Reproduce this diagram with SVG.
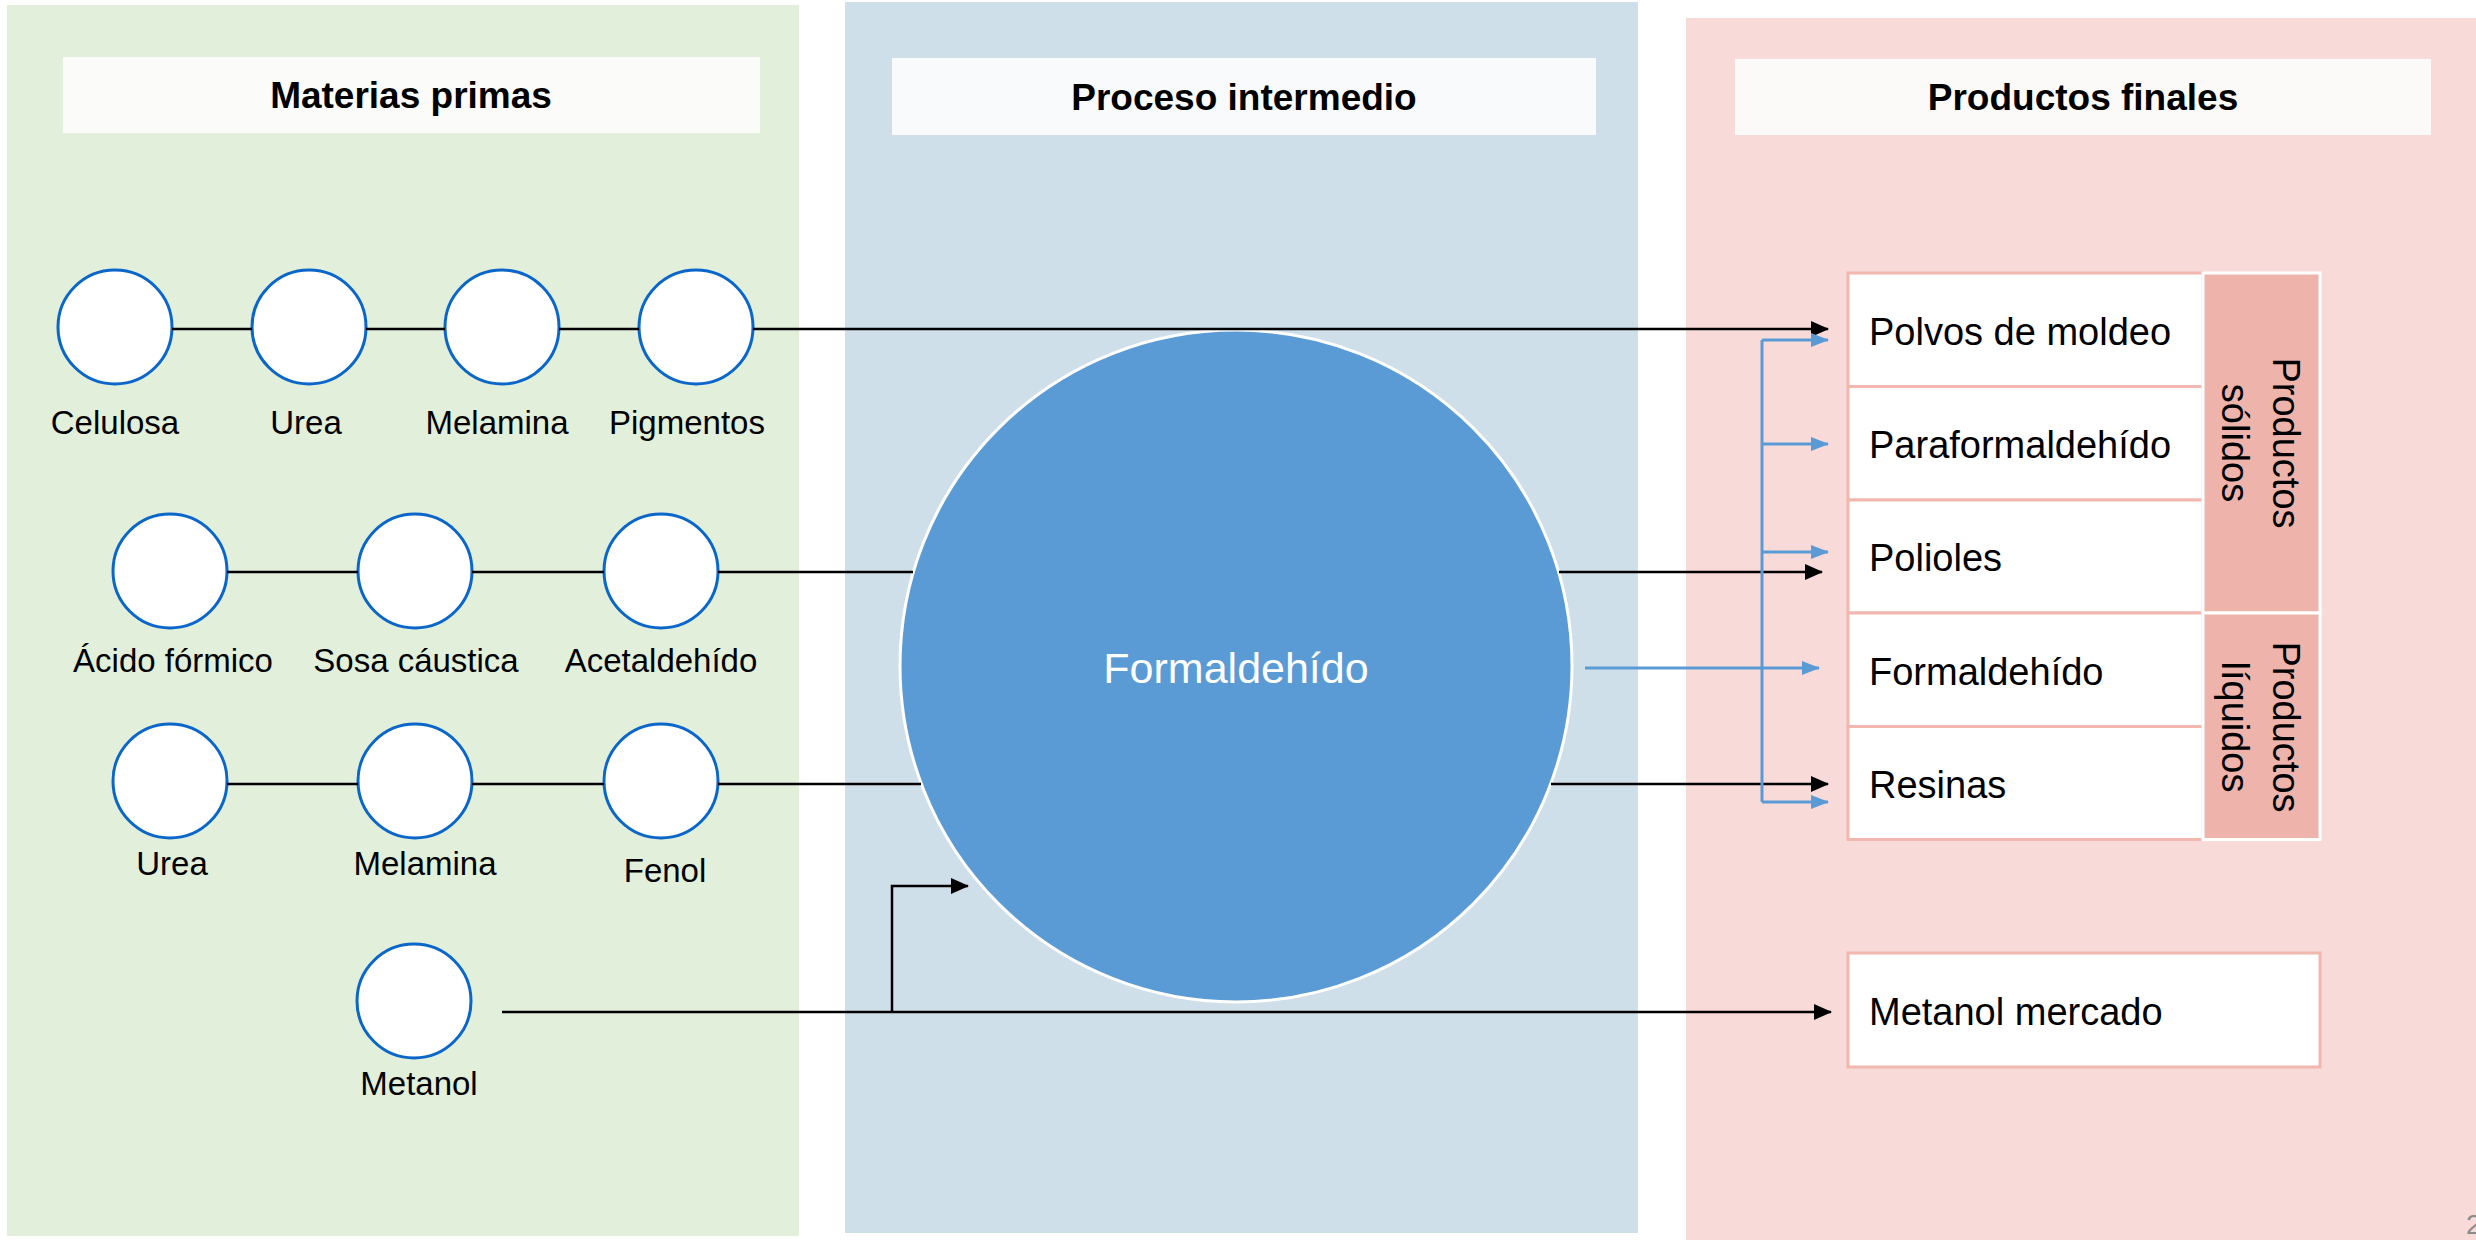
<svg xmlns="http://www.w3.org/2000/svg" width="2476" height="1240" viewBox="0 0 2476 1240">
<style>
.lbl{font-family:"Liberation Sans",Arial,sans-serif;font-size:33px;fill:#000;text-anchor:middle}
.ttl{font-family:"Liberation Sans",Arial,sans-serif;font-size:37px;font-weight:bold;fill:#000;text-anchor:middle}
.cell{font-family:"Liberation Sans",Arial,sans-serif;font-size:38px;fill:#000}
.side{font-family:"Liberation Sans",Arial,sans-serif;font-size:38px;fill:#000;text-anchor:middle}
.raw{fill:#fff;stroke:#0A66C8;stroke-width:3}
.blk{fill:none;stroke:#000;stroke-width:2.5}
.blu{fill:none;stroke:#5B9BD5;stroke-width:3}
.tc{fill:#fff;stroke:#F2B7AE;stroke-width:3}
.sc{fill:#EEB4AC;stroke:#fff;stroke-width:3}
</style>
<defs>
<marker id="ab" markerUnits="userSpaceOnUse" markerWidth="18" markerHeight="16" refX="17" refY="8" orient="auto"><path d="M0,0 L18,8 L0,16 z" fill="#000"/></marker>
<marker id="au" markerUnits="userSpaceOnUse" markerWidth="18" markerHeight="16" refX="17" refY="8" orient="auto"><path d="M0,1 L18,8 L0,15 z" fill="#5B9BD5"/></marker>
</defs>
<rect width="2476" height="1240" fill="#fff"/>
<g id="panels">
<rect x="7" y="5" width="792" height="1231" fill="#E2EFDA"/>
<rect x="845" y="2" width="793" height="1231" fill="#CFDFEA"/>
<rect x="1686" y="18" width="790" height="1222" fill="#F8DAD8"/>
</g>
<g id="titles">
<g id="t-materias"><rect x="63" y="57" width="697" height="76" fill="#FBFCF9"/><text class="ttl" x="411" y="108">Materias primas</text></g>
<g id="t-proceso"><rect x="892" y="58" width="704" height="77" fill="#F8FAFC"/><text class="ttl" x="1244" y="110">Proceso intermedio</text></g>
<g id="t-productos"><rect x="1735" y="59" width="696" height="76" fill="#FCFAF9"/><text class="ttl" x="2083" y="110">Productos finales</text></g>
</g>
<g id="nodes">
<g id="celulosa"><circle class="raw" cx="115" cy="327" r="57"/><text class="lbl" x="115" y="434">Celulosa</text></g>
<g id="urea1"><circle class="raw" cx="309" cy="327" r="57"/><text class="lbl" x="306" y="434">Urea</text></g>
<g id="melamina1"><circle class="raw" cx="502" cy="327" r="57"/><text class="lbl" x="497" y="434">Melamina</text></g>
<g id="pigmentos"><circle class="raw" cx="696" cy="327" r="57"/><text class="lbl" x="687" y="434">Pigmentos</text></g>
<g id="acido"><circle class="raw" cx="170" cy="571" r="57"/><text class="lbl" x="173" y="672">Ácido fórmico</text></g>
<g id="sosa"><circle class="raw" cx="415" cy="571" r="57"/><text class="lbl" x="416" y="672">Sosa cáustica</text></g>
<g id="acetaldehido"><circle class="raw" cx="661" cy="571" r="57"/><text class="lbl" x="661" y="672">Acetaldehído</text></g>
<g id="urea2"><circle class="raw" cx="170" cy="781" r="57"/><text class="lbl" x="172" y="875">Urea</text></g>
<g id="melamina2"><circle class="raw" cx="415" cy="781" r="57"/><text class="lbl" x="425" y="875">Melamina</text></g>
<g id="fenol"><circle class="raw" cx="661" cy="781" r="57"/><text class="lbl" x="665" y="882">Fenol</text></g>
<g id="metanol"><circle class="raw" cx="414" cy="1001" r="57"/><text class="lbl" x="419" y="1095">Metanol</text></g>
<g id="formaldehido"><circle cx="1236" cy="666" r="336" fill="#5B9BD5" stroke="#fff" stroke-width="3"/><text x="1236" y="683" font-family="Liberation Sans, Arial, sans-serif" font-size="43" fill="#fff" text-anchor="middle">Formaldehído</text></g>
<g id="tabla">
<rect class="tc" x="1848" y="273" width="355" height="113.5"/>
<rect class="tc" x="1848" y="386.5" width="355" height="113.5"/>
<rect class="tc" x="1848" y="500" width="355" height="113"/>
<rect class="tc" x="1848" y="613" width="355" height="113.5"/>
<rect class="tc" x="1848" y="726.5" width="355" height="113"/>
<text class="cell" x="1869" y="345">Polvos de moldeo</text>
<text class="cell" x="1869" y="458">Paraformaldehído</text>
<text class="cell" x="1869" y="571">Polioles</text>
<text class="cell" x="1869" y="685">Formaldehído</text>
<text class="cell" x="1869" y="798">Resinas</text>
</g>
<g id="solidos"><rect class="sc" x="2203" y="273" width="117" height="340"/>
<text class="side" transform="translate(2273,443) rotate(90)">Productos</text>
<text class="side" transform="translate(2222,443) rotate(90)">sólidos</text></g>
<g id="liquidos"><rect class="sc" x="2203" y="613" width="117" height="226.5"/>
<text class="side" transform="translate(2273,727) rotate(90)">Productos</text>
<text class="side" transform="translate(2222,727) rotate(90)">líquidos</text></g>
<g id="metanol-mercado"><rect class="tc" x="1848" y="953" width="472" height="114"/><text class="cell" x="1869" y="1025">Metanol mercado</text></g>
</g>
<g id="connectors">
<path class="blk" d="M172,329 H252 M366,329 H445 M559,329 H639"/>
<path class="blk" d="M753,329 H1828" marker-end="url(#ab)"/>
<path class="blk" d="M227,572 H358 M472,572 H604 M718,572 H913"/>
<path class="blk" d="M1559,572 H1822" marker-end="url(#ab)"/>
<path class="blk" d="M227,784 H358 M472,784 H604 M718,784 H921"/>
<path class="blk" d="M1551,784 H1828" marker-end="url(#ab)"/>
<path class="blk" d="M502,1012 H1831" marker-end="url(#ab)"/>
<path class="blk" d="M892,1012 V886 H968" marker-end="url(#ab)"/>
<path class="blu" d="M1585,668 H1819" marker-end="url(#au)"/>
<path class="blu" d="M1762,340 V802"/>
<path class="blu" d="M1762,340 H1828" marker-end="url(#au)"/>
<path class="blu" d="M1762,444 H1828" marker-end="url(#au)"/>
<path class="blu" d="M1762,552 H1828" marker-end="url(#au)"/>
<path class="blu" d="M1762,802 H1828" marker-end="url(#au)"/>
</g>
<text x="2466" y="1234" font-family="Liberation Sans, Arial, sans-serif" font-size="28" fill="#8C8C8C">2</text>
</svg>
